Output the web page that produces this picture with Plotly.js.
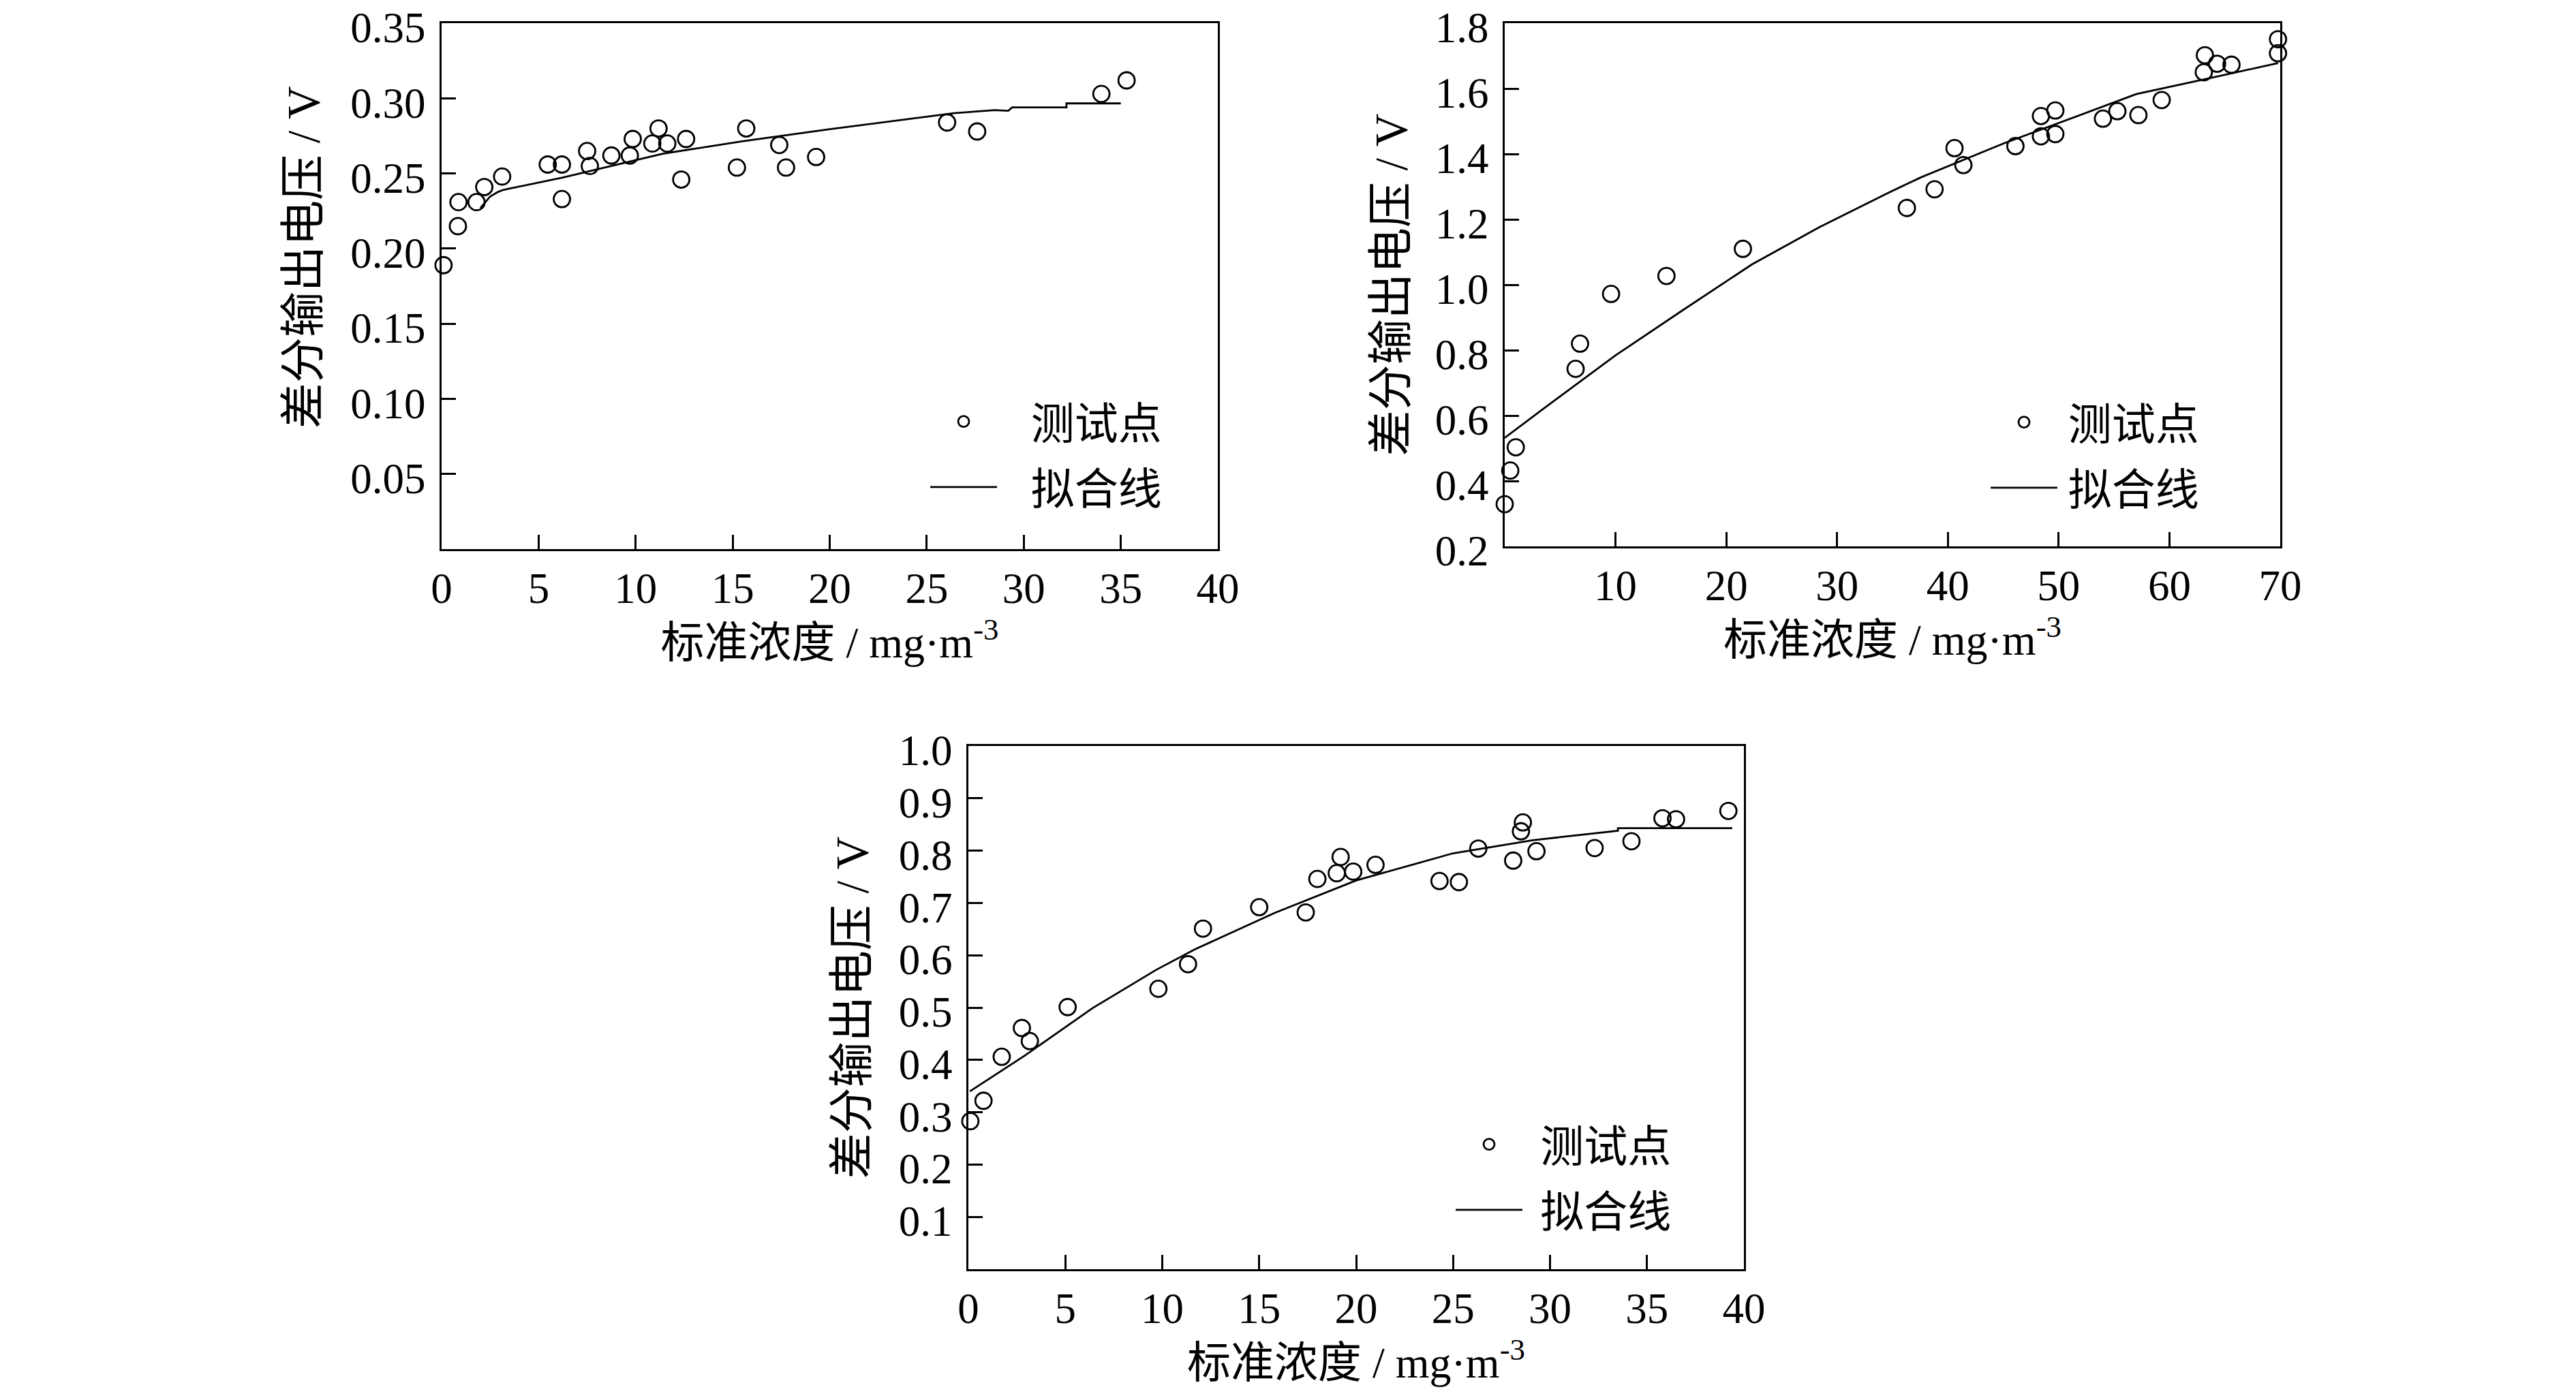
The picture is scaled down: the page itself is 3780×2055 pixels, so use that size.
<!DOCTYPE html>
<html>
<head>
<meta charset="utf-8">
<script src="https://cdn.plot.ly/plotly-3.0.1.min.js"></script>
<style>html,body{margin:0;padding:0;background:#fff;}#chart{width:3780px;height:2055px;}</style>
</head>
<body>
<div id="chart"></div>
<script>
// ---------- Data ----------
// Panel 1 (top left)
var p1PointX = [0.1, 0.84, 0.87, 1.8, 2.2, 3.12, 5.47, 6.2, 6.2, 7.5, 7.64, 8.75, 9.7, 9.85, 10.86, 11.18, 11.63, 12.35, 12.6, 15.22, 15.7, 17.4, 17.75, 19.3, 26.05, 27.6, 34.0, 35.3];
var p1PointY = [0.189, 0.215, 0.231, 0.231, 0.241, 0.248, 0.256, 0.256, 0.233, 0.265, 0.255, 0.262, 0.262, 0.273, 0.270, 0.280, 0.270, 0.246, 0.273, 0.254, 0.280, 0.269, 0.254, 0.261, 0.284, 0.278, 0.303, 0.312];
var p1FitX = [2.0, 2.5, 2.9, 3.2, 6.2, 7.9, 9.7, 11.4, 15.5, 20.0, 25.0, 26.4, 28.5, 29.2, 29.4, 32.2, 32.2, 35.0];
var p1FitY = [0.227, 0.2347, 0.2377, 0.2392, 0.2472, 0.2523, 0.258, 0.2632, 0.2715, 0.2795, 0.2876, 0.2902, 0.2922, 0.2918, 0.294, 0.294, 0.2967, 0.2967];

// Panel 2 (top right)
var p2PointX = [0.0, 0.5, 1.0, 6.4, 6.8, 9.6, 14.6, 21.5, 36.3, 38.8, 40.6, 41.4, 46.1, 48.4, 48.4, 49.7, 49.7, 54.0, 55.3, 57.2, 59.3, 63.1, 63.2, 64.3, 65.6, 69.8, 69.8];
var p2PointY = [0.329, 0.432, 0.503, 0.743, 0.820, 0.972, 1.027, 1.110, 1.235, 1.292, 1.418, 1.366, 1.424, 1.516, 1.454, 1.533, 1.461, 1.508, 1.531, 1.519, 1.565, 1.650, 1.702, 1.676, 1.673, 1.751, 1.708];
var p2FitX = [0, 3.5, 10, 16.1, 22.3, 28.4, 34.6, 37.6, 45, 51.8, 57, 63.1, 69.8];
var p2FitY = [0.532, 0.621, 0.784, 0.923, 1.062, 1.176, 1.281, 1.329, 1.432, 1.518, 1.583, 1.628, 1.678];

// Panel 3 (bottom)
var p3PointX = [0.1, 0.78, 1.72, 2.76, 3.17, 5.12, 9.8, 11.33, 12.1, 15.0, 17.4, 18.0, 19.0, 19.2, 19.85, 21.0, 24.3, 25.3, 26.3, 28.1, 28.5, 28.6, 29.3, 32.3, 34.2, 35.8, 36.5, 39.2];
var p3PointY = [0.283, 0.322, 0.406, 0.461, 0.436, 0.501, 0.536, 0.583, 0.651, 0.692, 0.682, 0.746, 0.757, 0.788, 0.760, 0.773, 0.742, 0.740, 0.804, 0.781, 0.837, 0.854, 0.799, 0.805, 0.818, 0.862, 0.860, 0.876];
var p3FitX = [0.08, 2.9, 6.4, 9.7, 11.7, 15.8, 20, 25, 29.1, 33.5, 33.5, 39.4];
var p3FitY = [0.340, 0.408, 0.499, 0.5725, 0.6116, 0.681, 0.743, 0.795, 0.820, 0.838, 0.843, 0.843];

// Tick values / labels
var p1XTicks = [0, 5, 10, 15, 20, 25, 30, 35, 40];
var p1YTicks = [0.05, 0.10, 0.15, 0.20, 0.25, 0.30, 0.35];
var p2XTicks = [10, 20, 30, 40, 50, 60, 70];
var p2YTicks = [0.2, 0.4, 0.6, 0.8, 1.0, 1.2, 1.4, 1.6, 1.8];
var p3XTicks = [0, 5, 10, 15, 20, 25, 30, 35, 40];
var p3YTicks = [0.1, 0.2, 0.3, 0.4, 0.5, 0.6, 0.7, 0.8, 0.9, 1.0];

var pointName = '测试点';
var fitName = '拟合线';
var xTitle = '标准浓度 / mg·m<sup>-3</sup>';
var yTitle = '差分输出电压 / V';

// ---------- Styling ----------
var FONT = 'Liberation Serif, Noto Sans CJK SC, serif';

function markerTrace(x, y, xa, ya, leg, pad) {
  return {
    type: 'scatter', mode: 'markers', x: x, y: y, xaxis: xa, yaxis: ya,
    name: pad + pointName, legend: leg, legendgroup: leg + 'p', cliponaxis: false,
    marker: {symbol: 'circle-open', size: 24, color: '#000', line: {width: 2.8, color: '#000'}}
  };
}
function lineTrace(x, y, xa, ya, leg, pad) {
  return {
    type: 'scatter', mode: 'lines', x: x, y: y, xaxis: xa, yaxis: ya,
    name: pad + fitName, legend: leg, legendgroup: leg + 'l',
    line: {color: '#000', width: 2.8, shape: 'linear'}
  };
}

function xAxis(domain, range, ticks, anchor, fmt) {
  return {
    domain: domain, range: range, anchor: anchor,
    tickmode: 'array', tickvals: ticks, tickformat: fmt,
    ticks: 'inside', ticklen: 21, tickwidth: 3, tickcolor: '#000',
    showline: true, linewidth: 3, linecolor: '#000', mirror: true,
    showgrid: false, zeroline: false, automargin: false,
    ticklabelstandoff: 0, ticklabeloverflow: 'allow',
    tickfont: {family: FONT, size: 63, color: '#000'},
    title: {text: xTitle, standoff: 18, font: {family: FONT, size: 64, color: '#000'}}
  };
}
function yAxis(domain, range, ticks, anchor, fmt, standoff, title) {
  return {
    domain: domain, range: range, anchor: anchor,
    tickmode: 'array', tickvals: ticks, tickformat: fmt,
    ticks: 'inside', ticklen: 21, tickwidth: 3, tickcolor: '#000',
    showline: true, linewidth: 3, linecolor: '#000', mirror: true,
    showgrid: false, zeroline: false, automargin: false,
    ticklabelstandoff: 8, ticklabelshift: 6, ticklabeloverflow: 'allow',
    tickfont: {family: FONT, size: 63, color: '#000'},
    title: {text: title, standoff: standoff, font: {family: FONT, size: 67, color: '#000'}}
  };
}
function legendBox(x, y) {
  return {
    x: x, y: y, xanchor: 'left', yanchor: 'middle', xref: 'paper', yref: 'paper',
    bgcolor: 'rgba(0,0,0,0)', borderwidth: 0, traceorder: 'grouped', tracegroupgap: 10,
    itemwidth: 98, font: {family: FONT, size: 64, color: '#000'}
  };
}

var W = 3780, H = 2055;
function px2x(p) { return p / W; }
function px2y(p) { return 1 - p / H; }

var data = [
  markerTrace(p1PointX, p1PointY, 'x', 'y', 'legend', '\u2002\u2009'),
  lineTrace(p1FitX, p1FitY, 'x', 'y', 'legend', '\u2002\u2009'),
  markerTrace(p2PointX, p2PointY, 'x2', 'y2', 'legend2', '\u2006'),
  lineTrace(p2FitX, p2FitY, 'x2', 'y2', 'legend2', '\u2006'),
  markerTrace(p3PointX, p3PointY, 'x3', 'y3', 'legend3', '\u2005\u200A'),
  lineTrace(p3FitX, p3FitY, 'x3', 'y3', 'legend3', '\u2005\u200A')
];

var layout = {
  width: W, height: H,
  margin: {l: 0, r: 0, t: 0, b: 0, pad: 0},
  paper_bgcolor: '#fff', plot_bgcolor: '#fff',
  showlegend: true,
  font: {family: FONT, color: '#000'},
  xaxis: xAxis([px2x(648), px2x(1787)], [0, 40], p1XTicks, 'y', 'd'),
  yaxis: yAxis([px2y(806), px2y(34)], [0, 0.3501], p1YTicks, 'x', '.2f', 28, ''),
  xaxis2: xAxis([px2x(2208), px2x(3346)], [0, 70], p2XTicks, 'y2', 'd'),
  yaxis2: yAxis([px2y(802), px2y(34)], [0.2, 1.8001], p2YTicks, 'x2', '.1f', 20, yTitle),
  xaxis3: xAxis([px2x(1421), px2x(2559)], [0, 40], p3XTicks, 'y3', 'd'),
  yaxis3: yAxis([px2y(1863), px2y(1095)], [0, 1.0001], p3YTicks, 'x3', '.1f', 24, yTitle),
  legend: legendBox(px2x(1360), px2y(667)),
  legend2: legendBox(px2x(2916), px2y(668)),
  legend3: legendBox(px2x(2131), px2y(1728)),
  annotations: [{
    text: yTitle, xref: 'paper', yref: 'paper', x: px2x(445), y: px2y(378),
    xanchor: 'center', yanchor: 'middle', textangle: -90, showarrow: false,
    font: {family: FONT, size: 67, color: '#000'}
  }]
};

Plotly.newPlot('chart', data, layout, {staticPlot: true, displayModeBar: false});
</script>
</body>
</html>
